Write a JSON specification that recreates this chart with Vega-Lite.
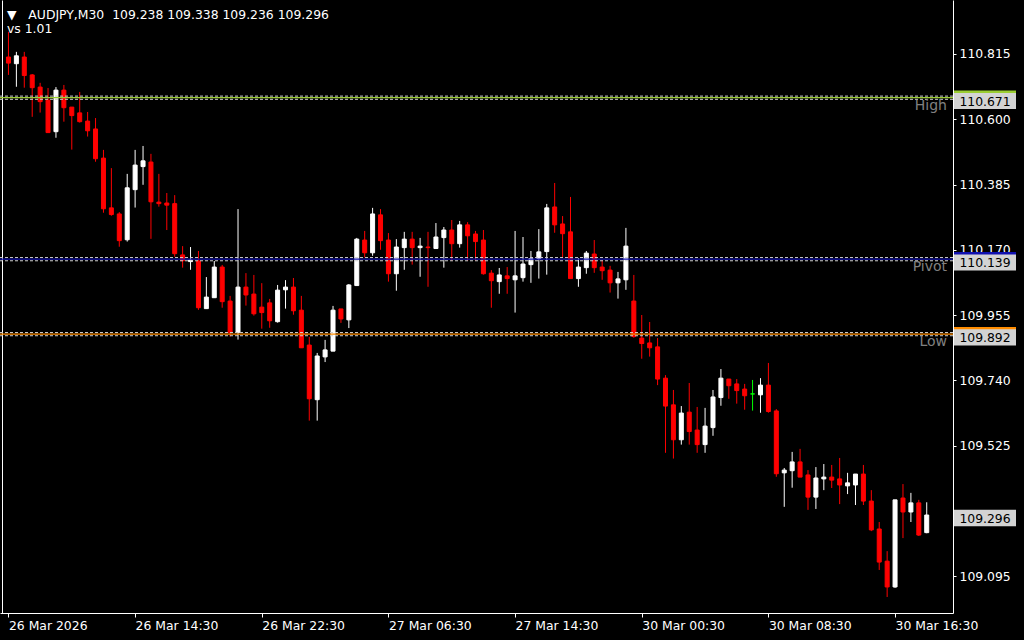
{
 "$schema": "https://vega.github.io/schema/vega-lite/v6.json",
 "width": 953, "height": 613,
 "autosize": "none",
 "padding": {"left": 0, "top": 0, "right": 71, "bottom": 27},
 "background": "#000000",
 "title": {"text": "▼\u00a0\u00a0\u00a0AUDJPY,M30\u00a0\u00a0109.238 109.338 109.236 109.296", "subtitle": "vs 1.01", "anchor": "start", "frame": "group", "orient": "top", "offset": -35, "color": "#ffffff", "subtitleColor": "#ffffff", "font": "DejaVu Sans", "subtitleFont": "DejaVu Sans", "fontSize": 12.4, "subtitleFontSize": 12.4, "fontWeight": "normal", "subtitlePadding": 1, "dx": 7},
 "datasets": {
  "bars": [
   {"i":0,"o":110.805,"h":110.888,"l":110.746,"c":110.785},
   {"i":1,"o":110.783,"h":110.822,"l":110.707,"c":110.809},
   {"i":2,"o":110.805,"h":110.822,"l":110.704,"c":110.744},
   {"i":3,"o":110.746,"h":110.749,"l":110.608,"c":110.704},
   {"i":4,"o":110.706,"h":110.720,"l":110.622,"c":110.658},
   {"i":5,"o":110.663,"h":110.703,"l":110.556,"c":110.556},
   {"i":6,"o":110.559,"h":110.706,"l":110.539,"c":110.696},
   {"i":7,"o":110.696,"h":110.713,"l":110.592,"c":110.638},
   {"i":8,"o":110.640,"h":110.640,"l":110.500,"c":110.612},
   {"i":9,"o":110.621,"h":110.690,"l":110.589,"c":110.592},
   {"i":10,"o":110.594,"h":110.624,"l":110.543,"c":110.562},
   {"i":11,"o":110.568,"h":110.604,"l":110.460,"c":110.470},
   {"i":12,"o":110.472,"h":110.499,"l":110.292,"c":110.305},
   {"i":13,"o":110.308,"h":110.439,"l":110.282,"c":110.286},
   {"i":14,"o":110.288,"h":110.294,"l":110.180,"c":110.200},
   {"i":15,"o":110.203,"h":110.420,"l":110.197,"c":110.374},
   {"i":16,"o":110.368,"h":110.499,"l":110.309,"c":110.449},
   {"i":17,"o":110.444,"h":110.512,"l":110.384,"c":110.463},
   {"i":18,"o":110.459,"h":110.486,"l":110.206,"c":110.328},
   {"i":19,"o":110.327,"h":110.420,"l":110.312,"c":110.322},
   {"i":20,"o":110.324,"h":110.357,"l":110.235,"c":110.317},
   {"i":21,"o":110.322,"h":110.350,"l":110.147,"c":110.157},
   {"i":22,"o":110.153,"h":110.182,"l":110.111,"c":110.134},
   {"i":23,"o":110.131,"h":110.179,"l":110.104,"c":110.136},
   {"i":24,"o":110.133,"h":110.166,"l":109.972,"c":109.979},
   {"i":25,"o":109.976,"h":110.080,"l":109.976,"c":110.014},
   {"i":26,"o":110.012,"h":110.133,"l":110.012,"c":110.113},
   {"i":27,"o":110.113,"h":110.120,"l":109.979,"c":109.999},
   {"i":28,"o":110.001,"h":110.018,"l":109.884,"c":109.897},
   {"i":29,"o":109.898,"h":110.304,"l":109.874,"c":110.047},
   {"i":30,"o":110.047,"h":110.093,"l":109.986,"c":110.021},
   {"i":31,"o":110.024,"h":110.087,"l":109.953,"c":109.959},
   {"i":32,"o":109.981,"h":110.060,"l":109.910,"c":109.963},
   {"i":33,"o":109.995,"h":110.008,"l":109.913,"c":109.936},
   {"i":34,"o":109.933,"h":110.054,"l":109.930,"c":110.037},
   {"i":35,"o":110.038,"h":110.070,"l":109.976,"c":110.047},
   {"i":36,"o":110.047,"h":110.077,"l":109.956,"c":109.969},
   {"i":37,"o":109.971,"h":110.018,"l":109.847,"c":109.847},
   {"i":38,"o":109.856,"h":109.883,"l":109.607,"c":109.679},
   {"i":39,"o":109.676,"h":109.830,"l":109.607,"c":109.820},
   {"i":40,"o":109.817,"h":109.873,"l":109.800,"c":109.840},
   {"i":41,"o":109.836,"h":109.985,"l":109.836,"c":109.971},
   {"i":42,"o":109.975,"h":109.975,"l":109.929,"c":109.942},
   {"i":43,"o":109.939,"h":110.057,"l":109.912,"c":110.054},
   {"i":44,"o":110.052,"h":110.209,"l":110.052,"c":110.205},
   {"i":45,"o":110.202,"h":110.232,"l":110.145,"c":110.160},
   {"i":46,"o":110.160,"h":110.308,"l":110.150,"c":110.288},
   {"i":47,"o":110.285,"h":110.304,"l":110.170,"c":110.200},
   {"i":48,"o":110.202,"h":110.225,"l":110.065,"c":110.091},
   {"i":49,"o":110.091,"h":110.205,"l":110.035,"c":110.179},
   {"i":50,"o":110.177,"h":110.229,"l":110.104,"c":110.205},
   {"i":51,"o":110.205,"h":110.229,"l":110.121,"c":110.177},
   {"i":52,"o":110.177,"h":110.209,"l":110.081,"c":110.182},
   {"i":53,"o":110.179,"h":110.229,"l":110.048,"c":110.177},
   {"i":54,"o":110.174,"h":110.258,"l":110.174,"c":110.212},
   {"i":55,"o":110.210,"h":110.245,"l":110.111,"c":110.235},
   {"i":56,"o":110.235,"h":110.268,"l":110.134,"c":110.190},
   {"i":57,"o":110.190,"h":110.265,"l":110.177,"c":110.252},
   {"i":58,"o":110.252,"h":110.261,"l":110.134,"c":110.216},
   {"i":59,"o":110.222,"h":110.232,"l":110.134,"c":110.197},
   {"i":60,"o":110.202,"h":110.235,"l":110.088,"c":110.091},
   {"i":61,"o":110.093,"h":110.103,"l":109.979,"c":110.068},
   {"i":62,"o":110.065,"h":110.110,"l":110.025,"c":110.087},
   {"i":63,"o":110.084,"h":110.113,"l":110.025,"c":110.075},
   {"i":64,"o":110.071,"h":110.232,"l":109.963,"c":110.084},
   {"i":65,"o":110.078,"h":110.212,"l":110.065,"c":110.123},
   {"i":66,"o":110.121,"h":110.166,"l":110.061,"c":110.141},
   {"i":67,"o":110.141,"h":110.238,"l":110.075,"c":110.163},
   {"i":68,"o":110.164,"h":110.321,"l":110.088,"c":110.308},
   {"i":69,"o":110.311,"h":110.390,"l":110.226,"c":110.252},
   {"i":70,"o":110.255,"h":110.281,"l":110.144,"c":110.223},
   {"i":71,"o":110.229,"h":110.344,"l":110.075,"c":110.075},
   {"i":72,"o":110.075,"h":110.143,"l":110.048,"c":110.113},
   {"i":73,"o":110.111,"h":110.166,"l":110.091,"c":110.159},
   {"i":74,"o":110.156,"h":110.202,"l":110.094,"c":110.111},
   {"i":75,"o":110.113,"h":110.136,"l":110.071,"c":110.101},
   {"i":76,"o":110.103,"h":110.117,"l":110.029,"c":110.061},
   {"i":77,"o":110.061,"h":110.097,"l":110.009,"c":110.074},
   {"i":78,"o":110.071,"h":110.242,"l":110.038,"c":110.182},
   {"i":79,"o":110.001,"h":110.087,"l":109.880,"c":109.884},
   {"i":80,"o":109.879,"h":109.955,"l":109.811,"c":109.861},
   {"i":81,"o":109.863,"h":109.932,"l":109.818,"c":109.847},
   {"i":82,"o":109.850,"h":109.879,"l":109.724,"c":109.744},
   {"i":83,"o":109.747,"h":109.757,"l":109.501,"c":109.655},
   {"i":84,"o":109.659,"h":109.708,"l":109.482,"c":109.544},
   {"i":85,"o":109.544,"h":109.655,"l":109.528,"c":109.632},
   {"i":86,"o":109.635,"h":109.731,"l":109.528,"c":109.571},
   {"i":87,"o":109.576,"h":109.652,"l":109.501,"c":109.528},
   {"i":88,"o":109.528,"h":109.649,"l":109.501,"c":109.589},
   {"i":89,"o":109.584,"h":109.708,"l":109.557,"c":109.685},
   {"i":90,"o":109.683,"h":109.777,"l":109.656,"c":109.747},
   {"i":91,"o":109.744,"h":109.744,"l":109.679,"c":109.722},
   {"i":92,"o":109.728,"h":109.744,"l":109.663,"c":109.706},
   {"i":93,"o":109.711,"h":109.728,"l":109.643,"c":109.689},
   {"i":94,"o":109.695,"h":109.741,"l":109.640,"c":109.695},
   {"i":95,"o":109.692,"h":109.747,"l":109.633,"c":109.724},
   {"i":96,"o":109.724,"h":109.797,"l":109.633,"c":109.637},
   {"i":97,"o":109.639,"h":109.645,"l":109.422,"c":109.432},
   {"i":98,"o":109.435,"h":109.451,"l":109.323,"c":109.444},
   {"i":99,"o":109.442,"h":109.504,"l":109.386,"c":109.471},
   {"i":100,"o":109.471,"h":109.514,"l":109.421,"c":109.421},
   {"i":101,"o":109.428,"h":109.444,"l":109.313,"c":109.355},
   {"i":102,"o":109.355,"h":109.454,"l":109.316,"c":109.418},
   {"i":103,"o":109.415,"h":109.464,"l":109.378,"c":109.421},
   {"i":104,"o":109.421,"h":109.461,"l":109.385,"c":109.411},
   {"i":105,"o":109.415,"h":109.484,"l":109.332,"c":109.395},
   {"i":106,"o":109.392,"h":109.435,"l":109.365,"c":109.402},
   {"i":107,"o":109.395,"h":109.431,"l":109.329,"c":109.431},
   {"i":108,"o":109.431,"h":109.461,"l":109.329,"c":109.342},
   {"i":109,"o":109.342,"h":109.378,"l":109.243,"c":109.247},
   {"i":110,"o":109.250,"h":109.273,"l":109.115,"c":109.141},
   {"i":111,"o":109.144,"h":109.177,"l":109.026,"c":109.059},
   {"i":112,"o":109.059,"h":109.346,"l":109.056,"c":109.346},
   {"i":113,"o":109.352,"h":109.398,"l":109.220,"c":109.306},
   {"i":114,"o":109.306,"h":109.369,"l":109.273,"c":109.336},
   {"i":115,"o":109.336,"h":109.346,"l":109.227,"c":109.230},
   {"i":116,"o":109.238,"h":109.338,"l":109.236,"c":109.296}
  ],
  "levels": [
   {"name": "High", "price": 110.671},
   {"name": "Pivot", "price": 110.139},
   {"name": "Low", "price": 109.892}
  ],
  "boxes": [
   {"name": "High", "price": 110.671},
   {"name": "Pivot", "price": 110.139},
   {"name": "Low", "price": 109.892},
   {"name": "Close", "price": 109.296}
  ]
 },
 "layer": [
  {
   "data": {"name": "bars"},
   "mark": {"type": "rule", "strokeWidth": 1},
   "encoding": {
    "x": {"field": "i", "type": "quantitative",
          "scale": {"domain": [-0.4375, 118.6875], "nice": false, "zero": false},
          "axis": {"values": [0, 16, 32, 48, 64, 80, 96, 112], "title": null, "grid": false,
                   "labelExpr": "['26 Mar 2026','26 Mar 14:30','26 Mar 22:30','27 Mar 06:30','27 Mar 14:30','30 Mar 00:30','30 Mar 08:30','30 Mar 16:30'][round(datum.value/16)]",
                   "domainColor": "#ffffff", "tickColor": "#ffffff", "tickSize": 4, "labelColor": "#ffffff",
                   "labelAlign": "left", "labelBaseline": "top", "labelPadding": 2, "labelFont": "DejaVu Sans",
                   "labelFontSize": 12.4, "labelFlush": false, "labelOverlap": false, "labelBound": false}},
    "y": {"field": "l", "type": "quantitative",
          "scale": {"domain": [108.9732, 110.9929], "nice": false, "zero": false},
          "axis": {"orient": "right", "values": [110.815, 110.6, 110.385, 110.17, 109.955, 109.74, 109.525, 109.095],
                   "format": ".3f", "title": null, "grid": false, "domainColor": "#ffffff", "tickColor": "#ffffff",
                   "tickSize": 3, "labelPadding": 3, "labelColor": "#ffffff", "labelFont": "DejaVu Sans",
                   "labelFontSize": 12.4, "labelOverlap": false, "labelBaseline": "middle", "labelAlign": "left", "labelBound": false, "labelFlush": false}},
    "y2": {"field": "h"},
    "color": {"condition": [{"test": "datum.c > datum.o", "value": "#ffffff"}, {"test": "datum.c < datum.o", "value": "#ff0000"}], "value": "#00ff00"}
   }
  },
  {
   "data": {"name": "bars"},
   "mark": {"type": "bar", "width": 4, "strokeWidth": 1, "orient": "vertical"},
   "encoding": {
    "x": {"field": "i", "type": "quantitative"},
    "y": {"field": "o", "type": "quantitative",
          "axis": {"orient": "left", "labels": false, "ticks": false, "domain": true, "domainColor": "#ffffff", "offset": -2, "title": null, "grid": false}},
    "y2": {"field": "c"},
    "color": {"condition": [{"test": "datum.c > datum.o", "value": "#ffffff"}, {"test": "datum.c < datum.o", "value": "#ff0000"}], "value": "#00ff00"},
    "stroke": {"condition": [{"test": "datum.c > datum.o", "value": "#ffffff"}, {"test": "datum.c < datum.o", "value": "#ff0000"}], "value": "#00ff00"}
   }
  },
  {
   "data": {"name": "levels"},
   "mark": {"type": "rule", "strokeDash": [3, 2], "color": "#d0d0d0", "strokeWidth": 1, "yOffset": -1.6},
   "encoding": {"y": {"field": "price", "type": "quantitative", "axis": null}}
  },
  {
   "data": {"name": "levels"},
   "mark": {"type": "rule", "strokeDash": [3, 2], "color": "#d0d0d0", "strokeWidth": 1, "yOffset": 1.6},
   "encoding": {"y": {"field": "price", "type": "quantitative", "axis": null}}
  },
  {
   "data": {"name": "levels"},
   "mark": {"type": "rule", "strokeWidth": 1.3},
   "encoding": {
    "y": {"field": "price", "type": "quantitative", "axis": null},
    "color": {"field": "name", "type": "nominal", "scale": {"domain": ["High", "Pivot", "Low"], "range": ["#9acd32", "#1010b0", "#ff8c00"]}, "legend": null}
   }
  },
  {
   "data": {"name": "levels"},
   "mark": {"type": "text", "align": "right", "baseline": "middle", "dy": 8, "fontSize": 14, "font": "DejaVu Sans", "color": "#808080"},
   "encoding": {
    "y": {"field": "price", "type": "quantitative", "axis": null},
    "x": {"value": 947},
    "text": {"field": "name"}
   }
  },
  {
   "data": {"name": "boxes"},
   "mark": {"type": "point", "shape": "M-1,-0.266H1V0.266H-1Z", "size": 3844, "filled": true, "opacity": 1, "color": "#d3d3d3", "strokeWidth": 0, "yOffset": 3},
   "encoding": {
    "y": {"field": "price", "type": "quantitative", "axis": null},
    "x": {"value": 985}
   }
  },
  {
   "data": {"name": "boxes"},
   "transform": [{"filter": "datum.name != 'Close'"}],
   "mark": {"type": "point", "shape": "M-1,-0.04H1V0.04H-1Z", "size": 3844, "filled": true, "opacity": 1, "strokeWidth": 0, "yOffset": -6},
   "encoding": {
    "y": {"field": "price", "type": "quantitative", "axis": null},
    "x": {"value": 985},
    "color": {"field": "name", "type": "nominal", "scale": {"domain": ["High", "Pivot", "Low"], "range": ["#9acd32", "#1010b0", "#ff8c00"]}, "legend": null}
   }
  },
  {
   "data": {"name": "boxes"},
   "mark": {"type": "text", "align": "center", "baseline": "middle", "dy": 4, "fontSize": 12.4, "font": "DejaVu Sans", "color": "#000000"},
   "encoding": {
    "y": {"field": "price", "type": "quantitative", "axis": null},
    "x": {"value": 985},
    "text": {"field": "price", "type": "quantitative", "format": ".3f"}
   }
  }
 ],
 "resolve": {"axis": {"y": "independent"}},
 "config": {"view": {"stroke": null}, "font": "DejaVu Sans"}
}
